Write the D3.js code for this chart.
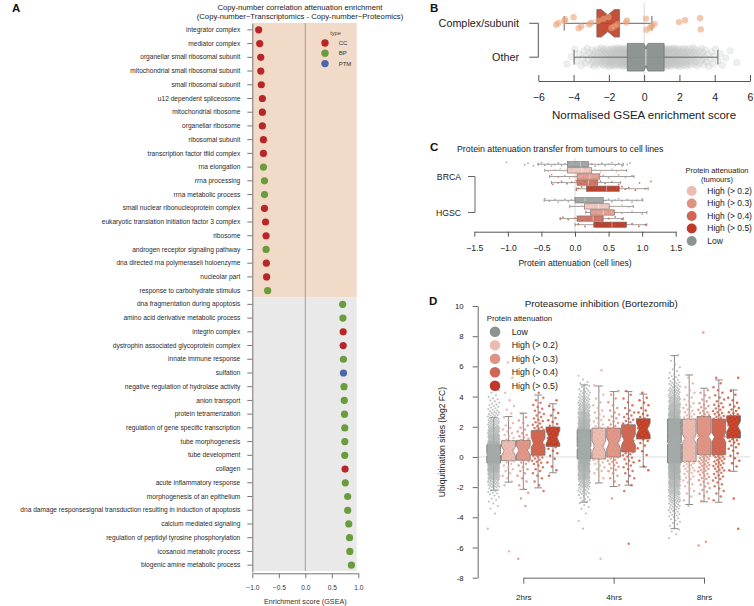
<!DOCTYPE html>
<html><head><meta charset="utf-8">
<script src="https://cdn.jsdelivr.net/npm/d3@7"></script>
<style>
html,body{margin:0;padding:0;background:#fff;}
svg{display:block;}
</style></head><body>
<svg id="fig" width="754" height="606"></svg>
<script>
// ================= DATA =================
// ---- Panel A ----
const aTerms = ["integrator complex","mediator complex","organellar small ribosomal subunit","mitochondrial small ribosomal subunit","small ribosomal subunit","u12 dependent spliceosome","mitochondrial ribosome","organellar ribosome","ribosomal subunit","transcription factor tfiid complex","rna elongation","rrna processing","rrna metabolic process","small nuclear ribonucleoprotein complex","eukaryotic translation initiation factor 3 complex","ribosome","androgen receptor signaling pathway","dna directed rna polymeraseii holoenzyme","nucleolar part","response to carbohydrate stimulus","dna fragmentation during apoptosis","amino acid derivative metabolic process","integrin complex","dystrophin associated glycoprotein complex","innate immune response","sulfation","negative regulation of hydrolase activity","anion transport","protein tetramerization","regulation of gene specific transcription","tube morphogenesis","tube development","collagen","acute inflammatory response","morphogenesis of an epithelium","dna damage responsesignal transduction resulting in induction of apoptosis","calcium mediated signaling","regulation of peptidyl tyrosine phosphorylation","icosanoid metabolic process","biogenic amine metabolic process"];
const aScores = [-0.88,-0.86,-0.84,-0.84,-0.83,-0.81,-0.81,-0.81,-0.79,-0.79,-0.79,-0.77,-0.77,-0.77,-0.75,-0.74,-0.74,-0.735,-0.73,-0.71,0.705,0.71,0.715,0.715,0.72,0.72,0.73,0.735,0.74,0.745,0.745,0.745,0.75,0.755,0.80,0.80,0.82,0.835,0.84,0.87];
const aTypes = ["CC","CC","CC","CC","CC","CC","CC","CC","CC","CC","BP","BP","BP","CC","CC","CC","BP","CC","CC","BP","BP","BP","CC","CC","BP","PTM","BP","BP","BP","BP","BP","BP","CC","BP","BP","BP","BP","BP","BP","BP"];
const aTypeNames = ["CC","BP","PTM"];
const aXTicks = [-1,-0.5,0,0.5,1];

// ---- Panel B ----
const bGroups = ["Complex/subunit","Other"];
// box stats: [lower whisker, q1, median, q3, upper whisker]
const bBoxComplex = [-4.53,-2.68,-2.06,-1.40,0.44];
const bBoxOther = [-3.97,-0.95,0.10,1.13,4.18];
const bNotch = [0.37,0.12];
const bComplexPoints = [-4.99,-4.86,-4.52,-4.48,-4.0,-3.72,-3.57,-3.12,-3.0,-2.6,-2.3,-2.02,-1.85,-1.68,-1.5,-1.02,-0.98,0.11,0.13,0.34,0.44,0.58,1.97,2.32,3.17,3.21];
// "Other" cloud, counts per 0.5-wide bin starting at -5
const bOtherCounts = [0,2,4,8,14,22,32,42,52,58,60,55,45,35,25,17,11,7,4,2,1];
const bTicks = [-6,-4,-2,0,2,4,6];

// ---- Panel C ----
const cGroups = ["BRCA","HGSC"];
const cLevels = ["Low","High (> 0.2)","High (> 0.3)","High (> 0.4)","High (> 0.5)"];
const cBoxBRCA = [[-0.55,-0.11,0.08,0.20,0.72],[-0.45,-0.11,0.10,0.25,0.77],[-0.38,0.03,0.22,0.37,0.88],[-0.35,0.03,0.20,0.34,0.68],[0.02,0.17,0.47,0.66,1.09]];
const cBoxHGSC = [[-0.46,0.0,0.15,0.42,1.01],[-0.08,0.14,0.35,0.51,0.87],[0.16,0.23,0.42,0.59,1.07],[-0.22,0.03,0.27,0.42,0.72],[0.0,0.28,0.55,0.77,1.07]];
const cPointsBRCA = [
  [-1.02,-0.75,-0.7,-0.62,-0.55,-0.5,-0.45,-0.4,-0.35,-0.3,-0.25,-0.2,-0.15,-0.1,-0.05,0,0.05,0.1,0.15,0.2,0.25,0.3,0.35,0.4,0.45,0.5,0.55,0.6,0.65,0.7,0.78,0.82],
  [-0.4,-0.3,-0.22,-0.15,-0.05,0.02,0.08,0.15,0.22,0.3,0.38,0.45,0.55,0.62,0.7],
  [-0.35,-0.25,-0.15,-0.08,0.0,0.05,0.12,0.2,0.28,0.35,0.42,0.5,0.58,0.65,0.75,0.85],
  [-0.33,-0.25,-0.2,-0.12,-0.05,0.02,0.08,0.15,0.22,0.3,0.38,0.45,0.55,0.65,0.96,1.13],
  [0.02,0.05,0.1,0.2,0.3,0.35,0.42,0.5,0.55,0.62,0.7,0.75,0.8,0.9,1.05]];
const cPointsHGSC = [
  [-0.45,-0.38,-0.3,-0.25,-0.2,-0.15,-0.1,-0.05,0.0,0.05,0.1,0.15,0.2,0.25,0.3,0.35,0.4,0.45,0.5,0.55,0.6,0.65,0.7,0.78,0.85,0.92,1.0],
  [-0.08,0.1,0.2,0.3,0.4,0.5,0.6,0.7,0.8],
  [0.17,0.25,0.3,0.38,0.45,0.5,0.58,0.7,0.85,1.0],
  [-0.22,-0.18,-0.1,0.0,0.1,0.2,0.3,0.4,0.5,0.6,0.7],
  [0.05,0.15,0.3,0.4,0.5,0.6,0.68,0.75,0.85,0.95,1.05]];
const cTicks = [-1.5,-1,-0.5,0,0.5,1,1.5];
const cLegendOrder = ["High (> 0.2)","High (> 0.3)","High (> 0.4)","High (> 0.5)","Low"];

// ---- Panel D ----
const dTimes = ["2hrs","4hrs","8hrs"];
const dLevels = ["Low","High (> 0.2)","High (> 0.3)","High (> 0.4)","High (> 0.5)"];
const dBox2hrs = [[-2.2,-0.40,0.15,0.81,2.6],[-1.67,-0.25,0.40,1.08,2.68],[-2.15,-0.22,0.44,1.10,2.9],[-2.05,0.12,0.95,1.75,4.1],[-1.05,0.70,1.30,1.98,3.52]];
const dBox4hrs = [[-3.0,-0.13,0.60,1.80,4.77],[-1.72,-0.13,0.70,1.91,4.7],[-1.96,0.0,0.92,1.91,4.33],[-1.87,0.33,1.14,2.13,4.33],[-0.66,1.19,1.85,2.53,4.16]];
const dBox8hrs = [[-4.75,-0.40,0.90,2.51,6.71],[-3.15,-0.30,1.21,2.51,5.43],[-2.97,0.15,1.36,2.68,4.55],[-3.0,0.15,1.30,2.51,5.1],[-0.95,1.25,2.02,2.73,4.44]];
const dNotch2hrs = [0.06,0.30,0.30,0.30,0.45];
const dNotch4hrs = [0.08,0.40,0.35,0.35,0.40];
const dNotch8hrs = [0.06,0.30,0.25,0.30,0.35];
// point clouds: counts per 0.5-wide bin starting at -7.5
const dCounts2hrs = [
  [0,0,0,0,0,1,0,1,3,5,10,20,35,55,80,90,65,42,32,22,15,10,7,3,0,0,0,0,0,0,0,0],
  [0,0,1,0,0,0,0,0,0,0,0,2,3,4,6,8,7,5,4,3,2,2,1,1,0,1,0,1,0,0,0,0],
  [0,1,0,0,0,0,0,0,1,1,2,2,3,4,6,8,7,6,4,3,2,0,0,0,0,0,0,0,0,0,0,0],
  [0,0,0,0,0,0,0,0,0,0,1,2,3,4,7,10,12,11,9,6,5,4,3,1,0,0,0,0,0,0,0,0],
  [0,0,0,0,0,0,0,0,0,0,0,0,1,2,2,3,5,7,6,4,3,2,1,0,0,0,0,0,0,0,0,0]];
const dCounts4hrs = [
  [0,0,0,0,0,1,1,1,4,8,14,25,40,55,70,85,85,75,60,45,35,25,18,12,6,2,0,0,0,0,0,0],
  [0,1,0,0,0,0,0,0,0,0,0,1,3,4,6,7,8,7,6,5,4,3,2,2,1,0,1,0,0,0,0,0],
  [0,0,0,0,0,0,0,0,0,1,0,2,3,5,7,8,8,8,7,5,4,3,2,2,0,0,0,0,0,0,0,0],
  [0,0,0,1,0,0,0,0,0,0,1,2,3,4,5,7,9,9,8,6,5,3,2,2,0,0,0,0,0,0,0,0],
  [0,0,0,0,0,0,0,0,0,0,0,0,0,2,1,2,3,5,7,7,5,3,3,1,0,0,0,0,0,0,0,0]];
const dCounts8hrs = [
  [0,0,0,0,2,4,6,10,15,22,30,40,52,62,70,75,75,72,65,58,48,38,28,20,14,8,4,2,1,0,0,0],
  [0,0,0,0,0,0,0,0,1,2,3,4,6,8,10,11,12,12,11,9,7,5,4,3,2,1,0,0,0,0,0,0],
  [0,0,0,2,0,0,0,0,0,3,4,5,7,9,11,12,13,13,12,10,8,6,4,3,0,0,0,0,0,0,0,1],
  [0,0,0,0,0,0,0,0,0,2,3,4,6,8,9,11,12,12,12,10,8,6,4,3,2,1,0,0,0,0,0,0],
  [0,0,0,0,0,1,0,0,0,1,0,0,0,2,3,3,5,7,8,8,7,5,3,2,0,1,0,0,0,0,0,0]];
const dYTicks = [-8,-6,-4,-2,0,2,4,6,8,10];

// ================= DRAWING =================
const FONT = '"Liberation Sans", Arial, Helvetica, sans-serif';
const TXT = "#222";
const svg = d3.select("#fig").attr("font-family", FONT);
const jit = k => ((k * 0.6180339887) % 1) - 0.5;
function histValues(counts, start, width) {
  const out = [];
  counts.forEach((n, i) => { for (let j = 0; j < n; j++) out.push(start + i * width + (j + 0.5) / n * width); });
  return out;
}
function styleAxis(g, size, lineColor) {
  g.attr("font-family", FONT).attr("font-size", size);
  g.selectAll("text").attr("fill", TXT);
  g.selectAll("line").attr("stroke", lineColor || "#777");
  g.selectAll("path.domain").attr("stroke", lineColor || "#777");
}
const levelFill = {"Low":"#8b9290","High (> 0.2)":"#ecbfb5","High (> 0.3)":"#e0998a","High (> 0.4)":"#cd6b59","High (> 0.5)":"#bd3f2b"};
const levelPoint = {"Low":"#a7acaa","High (> 0.2)":"#e9b2a6","High (> 0.3)":"#df8f7d","High (> 0.4)":"#d5624b","High (> 0.5)":"#d44e2b"};
const levelLegend = {"Low":"#8c9491","High (> 0.2)":"#ebbcb2","High (> 0.3)":"#df9384","High (> 0.4)":"#cf6754","High (> 0.5)":"#c0392b"};
const cFill = {"Low":"#a3a9a7","High (> 0.2)":"#f0c9c0","High (> 0.3)":"#e3a293","High (> 0.4)":"#d07767","High (> 0.5)":"#b9412f"};

// panel letters
[["A",12,12],["B",430,12],["C",430,151],["D",429,305]].forEach(([t,x,y]) =>
  svg.append("text").attr("x",x).attr("y",y).attr("font-size",11.5).attr("font-weight","bold").attr("fill","#111").text(t));

// ---------- Panel A ----------
{
  const g = svg.append("g");
  const xA = d3.scaleLinear().domain([-1,1]).range([252.3,358.3]);
  const yA = d3.scaleBand().domain(aTerms).range([23,572]);
  const typeColor = d3.scaleOrdinal().domain(aTypeNames).range(["#b8262a","#6a9b3c","#4b66ab"]);
  const negT = aTerms.filter((t,i)=>aScores[i]<0), posT = aTerms.filter((t,i)=>aScores[i]>=0);
  const right = xA(0.97);
  g.append("rect").attr("x",xA(-1)).attr("y",yA(negT[0])).attr("width",right-xA(-1))
    .attr("height",yA(negT[negT.length-1])+yA.bandwidth()-yA(negT[0])).attr("fill","#f1dac7");
  g.append("rect").attr("x",xA(-1)).attr("y",yA(posT[0])).attr("width",right-xA(-1))
    .attr("height",571-yA(posT[0])).attr("fill","#e8e9e8");
  g.append("line").attr("x1",xA(0)).attr("x2",xA(0)).attr("y1",23).attr("y2",571).attr("stroke","#8c8c8c").attr("stroke-width",0.8);
  const ay = g.append("g").attr("transform",`translate(${xA(-1)},0)`)
    .call(d3.axisLeft(yA).tickSize(5).tickSizeOuter(0).tickPadding(7));
  styleAxis(ay, 6.6, "#777"); ay.selectAll("text").attr("fill","#2a2a2a");
  const ax = g.append("g").attr("transform","translate(0,573.3)")
    .call(d3.axisBottom(xA).tickValues(aXTicks).tickFormat(d3.format(".1f")).tickSize(5).tickSizeOuter(0).tickPadding(7));
  styleAxis(ax, 6.6, "#777"); ax.selectAll("text").attr("fill","#333");
  g.append("text").attr("x",xA(0)).attr("y",603.5).attr("text-anchor","middle").attr("font-size",7.2).attr("fill","#333").text("Enrichment score (GSEA)");
  g.selectAll("circle.dot").data(aTerms).join("circle").attr("class","dot")
    .attr("cx",(d,i)=>xA(aScores[i])).attr("cy",d=>yA(d)+yA.bandwidth()/2).attr("r",3.6)
    .attr("fill",(d,i)=>typeColor(aTypes[i]));
  g.append("text").attr("x",300).attr("y",9.5).attr("text-anchor","middle").attr("font-size",7.7).attr("fill",TXT)
    .text("Copy-number correlation attenuation enrichment");
  g.append("text").attr("x",300).attr("y",18.5).attr("text-anchor","middle").attr("font-size",7.7).attr("fill",TXT)
    .text("(Copy-number~Transcriptomics - Copy-number~Proteomics)");
  // legend
  g.append("text").attr("x",335.5).attr("y",34.5).attr("text-anchor","middle").attr("font-size",5.6).attr("fill","#444").text("type");
  aTypeNames.forEach((t,i) => {
    g.append("circle").attr("cx",325).attr("cy",43+i*10.3).attr("r",3.7).attr("fill",typeColor(t));
    g.append("text").attr("x",338.7).attr("y",43+i*10.3).attr("dy","0.35em").attr("font-size",6).attr("fill","#333").text(t);
  });
}

// ---------- Panel B ----------
function hBox(g, x, yc, h, s, notch, fill, stroke, medLine) {
  g.append("line").attr("x1",x(s[0])).attr("x2",x(s[4])).attr("y1",yc).attr("y2",yc).attr("stroke","#666").attr("stroke-width",1);
  [s[0],s[4]].forEach(v => g.append("line").attr("x1",x(v)).attr("x2",x(v)).attr("y1",yc-h*0.27).attr("y2",yc+h*0.27).attr("stroke","#666").attr("stroke-width",1));
  const n0 = Math.max(s[1], s[2]-notch), n1 = Math.min(s[3], s[2]+notch), ind = h*0.2;
  const t = yc-h/2, b = yc+h/2;
  const pts = [[x(s[1]),t],[x(n0),t],[x(s[2]),t+ind],[x(n1),t],[x(s[3]),t],[x(s[3]),b],[x(n1),b],[x(s[2]),b-ind],[x(n0),b],[x(s[1]),b]];
  g.append("path").attr("d", d3.line()(pts)+"Z").attr("fill",fill).attr("fill-opacity",0.93).attr("stroke",stroke).attr("stroke-width",0.8);
  if (medLine) g.append("line").attr("x1",x(s[2])).attr("x2",x(s[2])).attr("y1",t+ind).attr("y2",b-ind).attr("stroke",medLine).attr("stroke-width",1.4);
}
{
  const g = svg.append("g");
  const xB = d3.scaleLinear().domain([-6,6]).range([538.3,750]);
  const yB = d3.scalePoint().domain(bGroups).range([23.3,57.2]);
  g.append("line").attr("x1",xB(0)).attr("x2",xB(0)).attr("y1",3).attr("y2",81).attr("stroke","#d9d9d9").attr("stroke-width",1);
  // Other cloud
  const other = histValues(bOtherCounts, -5, 0.5);
  g.selectAll("circle.o").data(other).join("circle").attr("class","o")
    .attr("cx",d=>xB(d)).attr("cy",(d,i)=>yB("Other")+jit(i+3)*19).attr("r",3.3)
    .attr("fill","#c8cbca").attr("fill-opacity",0.3).attr("stroke","#b5b8b7").attr("stroke-opacity",0.3).attr("stroke-width",0.5);
  hBox(g, xB, yB("Other"), 27.6, bBoxOther, bNotch[1], "#8a918f", "#6d7371", "#c8cbca");
  hBox(g, xB, yB("Complex/subunit"), 27.4, bBoxComplex, bNotch[0], "#c0432b", "#7a6460", null);
  g.selectAll("circle.c").data(bComplexPoints).join("circle").attr("class","c")
    .attr("cx",d=>xB(d)).attr("cy",(d,i)=>yB("Complex/subunit")+jit(i*3+1)*13).attr("r",3.2)
    .attr("fill","#eba47c").attr("fill-opacity",0.6);
  const ax = g.append("g").attr("transform","translate(0,81)")
    .call(d3.axisBottom(xB).tickValues(bTicks).tickFormat(d3.format("d")).tickSizeInner(-6).tickSizeOuter(0).tickPadding(13));
  styleAxis(ax, 10.5, "#555");
  g.append("text").attr("x",644).attr("y",119).attr("text-anchor","middle").attr("font-size",11.5).attr("fill",TXT).text("Normalised GSEA enrichment score");
  bGroups.forEach(gr => g.append("text").attr("x",519).attr("y",yB(gr)).attr("dy","0.35em").attr("text-anchor","end").attr("font-size",10.8).attr("fill",TXT).text(gr));
  g.append("path").attr("d",`M529.3,${yB(bGroups[0])}H538.3V${yB(bGroups[1])}H529.3`).attr("fill","none").attr("stroke","#555").attr("stroke-width",1);
}

// ---------- Panel C ----------
{
  const g = svg.append("g");
  const xC = d3.scaleLinear().domain([-1.5,1.5]).range([474.3,675.7]);
  const yC = d3.scalePoint().domain(cGroups).range([176.5,212.5]);
  const inner = d3.scaleBand().domain(cLevels).range([-15.25,15.25]);
  g.append("text").attr("x",457).attr("y",152).attr("font-size",8.8).attr("fill",TXT).text("Protein attenuation transfer from tumours to cell lines");
  g.append("line").attr("x1",xC(0)).attr("x2",xC(0)).attr("y1",158).attr("y2",231.7).attr("stroke","#d0d0d0").attr("stroke-width",0.8);
  const boxes = {"BRCA":cBoxBRCA,"HGSC":cBoxHGSC}, pts = {"BRCA":cPointsBRCA,"HGSC":cPointsHGSC};
  let k = 0;
  cGroups.forEach(gr => cLevels.forEach((lv,li) => {
    const s = boxes[gr][li], yc = yC(gr)+inner(lv)+inner.bandwidth()/2, h = 5.3;
    g.append("line").attr("x1",xC(s[0])).attr("x2",xC(s[4])).attr("y1",yc).attr("y2",yc).attr("stroke","#777").attr("stroke-width",0.7);
    [s[0],s[4]].forEach(v => g.append("line").attr("x1",xC(v)).attr("x2",xC(v)).attr("y1",yc-1.6).attr("y2",yc+1.6).attr("stroke","#777").attr("stroke-width",0.7));
    g.append("rect").attr("x",xC(s[1])).attr("y",yc-h/2).attr("width",xC(s[3])-xC(s[1])).attr("height",h)
      .attr("fill",cFill[lv]).attr("stroke","#6f6f6f").attr("stroke-width",0.6);
    g.append("line").attr("x1",xC(s[2])).attr("x2",xC(s[2])).attr("y1",yc-h/2).attr("y2",yc+h/2).attr("stroke","#ffffff").attr("stroke-opacity",0.55).attr("stroke-width",0.8);
    pts[gr][li].forEach(v => {
      g.append("circle").attr("cx",xC(v)).attr("cy",yc+jit(k++)*4).attr("r",0.9)
        .attr("fill",lv==="Low" ? "#9aa09e" : levelPoint[lv]).attr("fill-opacity",0.85);
    });
  }));
  const ax = g.append("g").attr("transform","translate(0,231.7)")
    .call(d3.axisBottom(xC).tickValues(cTicks).tickFormat(d3.format(".1f")).tickSize(5).tickSizeOuter(0).tickPadding(8));
  styleAxis(ax, 8.6, "#555");
  g.append("text").attr("x",575).attr("y",266).attr("text-anchor","middle").attr("font-size",8.6).attr("fill",TXT).text("Protein attenuation (cell lines)");
  cGroups.forEach(gr => g.append("text").attr("x",461).attr("y",yC(gr)).attr("dy","0.35em").attr("text-anchor","end").attr("font-size",8.7).attr("fill",TXT).text(gr));
  g.append("path").attr("d",`M468,${yC(cGroups[0])}H475V${yC(cGroups[1])}H468`).attr("fill","none").attr("stroke","#555").attr("stroke-width",0.9);
  // legend
  g.append("text").attr("x",717).attr("y",173).attr("text-anchor","middle").attr("font-size",7.5).attr("fill",TXT).text("Protein attenuation");
  g.append("text").attr("x",717).attr("y",181.5).attr("text-anchor","middle").attr("font-size",7.5).attr("fill",TXT).text("(tumours)");
  cLegendOrder.forEach((lv,i) => {
    g.append("circle").attr("cx",691.7).attr("cy",191+i*12.5).attr("r",5).attr("fill",levelLegend[lv]);
    g.append("text").attr("x",707.3).attr("y",191+i*12.5).attr("dy","0.35em").attr("font-size",8.5).attr("fill",TXT).text(lv);
  });
}

// ---------- Panel D ----------
{
  const g = svg.append("g");
  const yD = d3.scaleLinear().domain([-8,10]).range([577.7,306]);
  const xD = d3.scalePoint().domain(dTimes).range([523.3,704]);
  const inner = d3.scaleBand().domain(dLevels).range([-36.5,36.5]).paddingInner(0.07);
  const bw = inner.bandwidth();
  g.append("line").attr("x1",477.7).attr("x2",750).attr("y1",yD(0)).attr("y2",yD(0)).attr("stroke","#dcdcdc").attr("stroke-width",1);
  g.append("text").attr("x",601.3).attr("y",306.7).attr("text-anchor","middle").attr("font-size",9.8).attr("fill",TXT).text("Proteasome inhibition (Bortezomib)");
  const boxes = {"2hrs":dBox2hrs,"4hrs":dBox4hrs,"8hrs":dBox8hrs};
  const notches = {"2hrs":dNotch2hrs,"4hrs":dNotch4hrs,"8hrs":dNotch8hrs};
  const counts = {"2hrs":dCounts2hrs,"4hrs":dCounts4hrs,"8hrs":dCounts8hrs};
  let k = 0;
  dTimes.forEach(t => dLevels.forEach((lv,li) => {
    const s = boxes[t][li], nt = notches[t][li];
    const xc = xD(t)+inner(lv)+bw/2, xl = xc-bw/2, xr = xc+bw/2;
    g.append("line").attr("x1",xc).attr("x2",xc).attr("y1",yD(s[0])).attr("y2",yD(s[4])).attr("stroke","#8a8a8a").attr("stroke-width",1);
    [s[0],s[4]].forEach(v => g.append("line").attr("x1",xc-bw*0.28).attr("x2",xc+bw*0.28).attr("y1",yD(v)).attr("y2",yD(v)).attr("stroke","#8a8a8a").attr("stroke-width",1));
    const n0 = Math.max(s[1], s[2]-nt), n1 = Math.min(s[3], s[2]+nt), ind = bw*0.2;
    const p = [[xl,yD(s[3])],[xr,yD(s[3])],[xr,yD(n1)],[xr-ind,yD(s[2])],[xr,yD(n0)],[xr,yD(s[1])],[xl,yD(s[1])],[xl,yD(n0)],[xl+ind,yD(s[2])],[xl,yD(n1)]];
    g.append("path").attr("d", d3.line()(p)+"Z").attr("fill",levelFill[lv]).attr("stroke","#757575").attr("stroke-width",0.8);
    const vals = histValues(counts[t][li], -7.5, 0.5);
    const isLow = lv === "Low";
    vals.forEach(v => {
      g.append("circle").attr("cx",xc+jit(k++)*bw*0.85).attr("cy",yD(v)).attr("r",isLow?1.05:1.25)
        .attr("fill",levelPoint[lv]).attr("fill-opacity",isLow?0.75:0.85);
    });
  }));
  const ay = g.append("g").attr("transform","translate(477.7,0)")
    .call(d3.axisLeft(yD).tickValues(dYTicks).tickFormat(d=>String(d)).tickSize(5).tickSizeOuter(0).tickPadding(9));
  styleAxis(ay, 7.8, "#666");
  const ax = g.append("g").attr("transform","translate(0,577.7)")
    .call(d3.axisBottom(xD).tickSize(6).tickSizeOuter(0).tickPadding(11));
  styleAxis(ax, 8, "#666");
  g.append("text").attr("transform","translate(441.7,442) rotate(-90)").attr("text-anchor","middle").attr("dy","0.35em")
    .attr("font-size",8.6).attr("fill",TXT).text("Ubiquitination sites (log2 FC)");
  // legend
  g.append("text").attr("x",486.7).attr("y",321).attr("font-size",7.8).attr("fill",TXT).text("Protein attenuation");
  dLevels.forEach((lv,i) => {
    g.append("circle").attr("cx",495).attr("cy",331.7+i*13.5).attr("r",5.3).attr("fill",levelLegend[lv]);
    g.append("text").attr("x",511.7).attr("y",331.7+i*13.5).attr("dy","0.35em").attr("font-size",8.8).attr("fill",TXT).text(lv);
  });
}
</script>
</body></html>
